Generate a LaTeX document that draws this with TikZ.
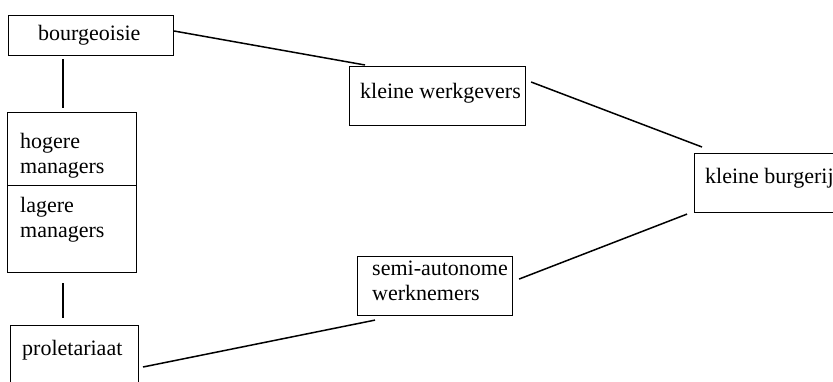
\documentclass[tikz,border=0pt]{standalone}
\usepackage{fontspec}
\setmainfont{Liberation Serif}
\usetikzlibrary{calc}
\begin{document}
\begin{tikzpicture}[x=1pt,y=-1pt,
  box/.style={draw, line width=1.1pt, rectangle, inner sep=0pt, anchor=north west},
  lbl/.style={inner sep=0pt, anchor=base west, align=left,
    font=\fontsize{22}{25}\selectfont},
  link/.style={line width=1.5pt}]
\clip (0,0) rectangle (833,381);

% class boxes
\node[box, minimum width=165pt, minimum height=40pt] (bourg) at (8,15) {};
\node[box, minimum width=129pt, minimum height=73pt] (hog) at (7,112) {};
\node[box, minimum width=129pt, minimum height=87pt] (lag) at (7,185) {};
\node[box, minimum width=128pt, minimum height=70pt] (prol) at (10,325) {};
\node[box, minimum width=176pt, minimum height=59pt] (kw) at (349,66) {};
\node[box, minimum width=155pt, minimum height=59pt] (semi) at (357,256) {};
\node[box, minimum width=220pt, minimum height=59pt] (kb) at (694,153) {};

% labels (two-line labels sit on the baseline of their last line)
\node[lbl] (tbourg) at ($(bourg.north west)+(30,25)$) {bourgeoisie};
\node[lbl] (thog) at ($(hog.north west)+(13,61)$) {hogere\\managers};
\node[lbl] (tlag) at ($(lag.north west)+(13,52)$) {lagere\\managers};
\node[lbl] (tprol) at ($(prol.north west)+(12,30)$) {proletariaat};
\node[lbl] (tkw) at ($(kw.north west)+(11,32)$) {kleine werkgevers};
\node[lbl] (tsemi) at ($(semi.north west)+(15,44)$) {semi-autonome\\werknemers};
\node[lbl] (tkb) at ($(kb.north west)+(11,30)$) {kleine burgerij};

% connectors
\draw[link] ($(bourg.south west)+(55,3)$) -- ($(hog.north west)+(56,-4)$);
\draw[link] ($(lag.south west)+(56,10)$) -- ($(prol.north west)+(53,-7)$);
\draw[link] ($(bourg.north east)+(0,16)$) -- ($(kw.north west)+(16,-1)$);
\draw[link] ($(kw.north east)+(5,16)$) -- ($(kb.north west)+(8,-6)$);
\draw[link] ($(kb.south west)+(-7,1)$) -- ($(semi.east)+(6,-7)$);
\draw[link] ($(semi.south west)+(18,4)$) -- ($(prol.north west)+(133,42)$);
\end{tikzpicture}
\end{document}
